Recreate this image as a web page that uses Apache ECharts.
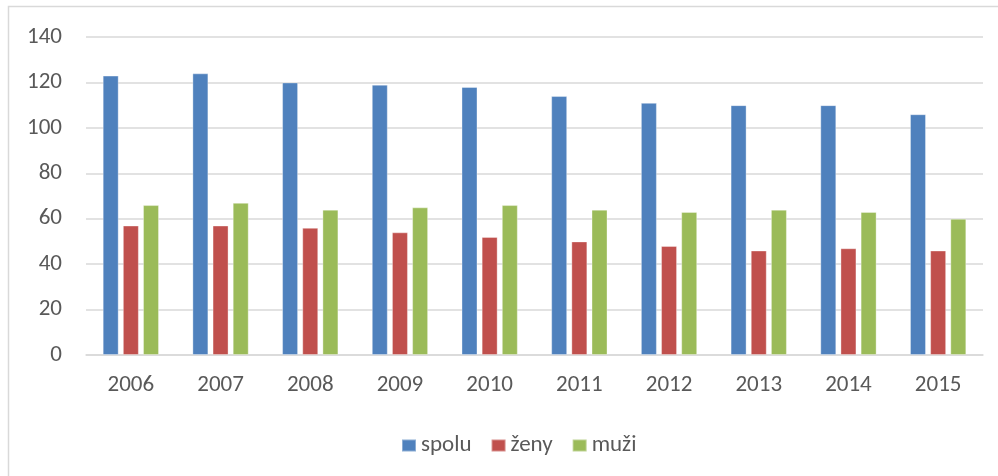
<!DOCTYPE html>
<html>
<head>
<meta charset="utf-8">
<script src="https://cdn.jsdelivr.net/npm/echarts@6/dist/echarts.min.js"></script>
<style>
  html, body { margin: 0; padding: 0; background: #fff; }
  #chart { width: 998px; height: 476px; }
</style>
</head>
<body>
<div id="chart"></div>
<script>
'use strict';

const years = ['2006', '2007', '2008', '2009', '2010', '2011', '2012', '2013', '2014', '2015'];
const spolu = [123, 124, 120, 119, 118, 114, 111, 110, 110, 106];
const zeny = [57, 57, 56, 54, 52, 50, 48, 46, 47, 46];
const muzi = [66, 67, 64, 65, 66, 64, 63, 64, 63, 60];
const seriesNames = ['spolu', 'ženy', 'muži'];
const colors = ['#4F81BD', '#C0504D', '#9BBB59'];

const font = 'Carlito, Lato, "Open Sans", sans-serif';
const txt = '#595959';

function barSeries(name, data, color) {
  return {
    name: name,
    type: 'bar',
    data: data,
    barWidth: 16,
    barGap: '26%',
    itemStyle: { color: color, borderColor: 'rgba(255,255,255,0.35)', borderWidth: 1 },
  };
}

const chart = echarts.init(document.getElementById('chart'));
chart.setOption({
  backgroundColor: '#fff',
  animation: false,
  textStyle: { fontFamily: font },
  grid: { left: 86, right: 15, top: 37, bottom: 121, containLabel: false },
  legend: {
    top: 429,
    left: 396,
    itemWidth: 14,
    itemHeight: 12,
    itemGap: 19,
    icon: 'rect',
    textStyle: { color: txt, fontSize: 23, fontFamily: font, padding: [0, 0, 0, 0] },
    data: seriesNames,
  },
  xAxis: {
    type: 'category',
    data: years,
    axisTick: { show: false },
    axisLine: { lineStyle: { color: '#d9d9d9', width: 1.5 } },
    axisLabel: { color: txt, fontSize: 23, margin: 19 },
  },
  yAxis: {
    type: 'value',
    min: 0,
    max: 140,
    interval: 20,
    axisLine: { show: false },
    axisTick: { show: false },
    axisLabel: { color: txt, fontSize: 23, margin: 24 },
    splitLine: { lineStyle: { color: '#d9d9d9', width: 1.5 } },
  },
  series: [
    barSeries(seriesNames[0], spolu, colors[0]),
    barSeries(seriesNames[1], zeny, colors[1]),
    barSeries(seriesNames[2], muzi, colors[2]),
  ],
  graphic: [{
    type: 'polyline',
    silent: true,
    shape: { points: [[8.5, 480], [8.5, 6.5], [1000, 6.5]] },
    style: { stroke: '#d9d9d9', lineWidth: 1.5, fill: null },
  }],
});
</script>
</body>
</html>
